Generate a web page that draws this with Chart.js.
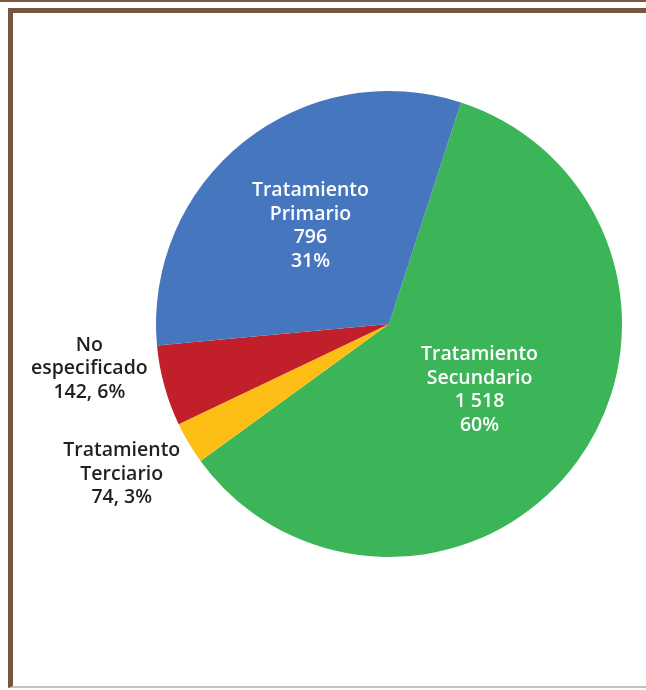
<!DOCTYPE html>
<html lang="es">
<head>
<meta charset="UTF-8">
<title>Tratamiento</title>
<script src="https://cdn.jsdelivr.net/npm/chart.js"></script>
<style>
  html, body { margin: 0; padding: 0; background: #fff; }
  body { width: 646px; height: 690px; position: relative; overflow: hidden; }
  .topline { position: absolute; left: 0; top: 0; width: 646px; height: 2px; background: #7a5a44; }
  .frame { position: absolute; left: 8px; top: 8px; width: 646px; height: 680px;
           border-top: 5px solid #775540; border-left: 5px solid #775540; border-bottom: 2px solid #c8c0ba; box-sizing: border-box; }
  canvas { position: absolute; left: 0; top: 0; }
</style>
</head>
<body>
<div class="topline"></div>
<div class="frame"></div>
<canvas id="pie" width="646" height="690"></canvas>
<script>
const categorias = ['Tratamiento Secundario', 'Tratamiento Terciario', 'No especificado', 'Tratamiento Primario'];
const valores = [1518, 74, 142, 796];
const porcentajes = ['60%', '3%', '6%', '31%'];
const etiquetas = [
  ['Tratamiento', 'Secundario', '1 518', '60%'],
  ['Tratamiento', 'Terciario', '74, 3%'],
  ['No', 'especificado', '142, 6%'],
  ['Tratamiento', 'Primario', '796', '31%']
];
const colores = ['#3bb558', '#fdbe16', '#c1202a', '#4677be'];

// where each label goes: inside (fraction of radius) or outside (offset from arc edge)
const posiciones = [
  { inside: true, r: 0.48, color: '#ffffff' },
  { inside: false, dx: -67, dy: 31, color: '#231f20' },
  { inside: false, dx: -75, dy: -17, color: '#231f20' },
  { inside: true, r: 0.54, color: '#ffffff' }
];

const etiquetasPlugin = {
  id: 'etiquetas',
  afterDatasetsDraw(chart) {
    const ctx = chart.ctx;
    const arcs = chart.getDatasetMeta(0).data;
    ctx.save();
    ctx.font = '600 19.5px "Open Sans", sans-serif';
    ctx.textAlign = 'center';
    ctx.textBaseline = 'middle';
    const lh = 23.5;
    arcs.forEach((arc, i) => {
      const p = posiciones[i];
      const mid = (arc.startAngle + arc.endAngle) / 2;
      let x, y;
      if (p.inside) {
        x = arc.x + Math.cos(mid) * arc.outerRadius * p.r;
        y = arc.y + Math.sin(mid) * arc.outerRadius * p.r;
      } else {
        x = arc.x + Math.cos(mid) * arc.outerRadius + p.dx;
        y = arc.y + Math.sin(mid) * arc.outerRadius + p.dy;
      }
      const lines = etiquetas[i];
      ctx.fillStyle = p.color;
      lines.forEach((t, k) => {
        ctx.fillText(t, x, y + (k - (lines.length - 1) / 2) * lh);
      });
    });
    ctx.restore();
  }
};

new Chart(document.getElementById('pie'), {
  type: 'pie',
  data: {
    labels: categorias,
    datasets: [{
      data: valores,
      backgroundColor: colores,
      borderWidth: 0
    }]
  },
  options: {
    responsive: false,
    animation: false,
    rotation: 18,
    layout: { padding: { left: 156, right: 24, top: 91, bottom: 133 } },
    plugins: {
      legend: { display: false },
      tooltip: { enabled: false }
    }
  },
  plugins: [etiquetasPlugin]
});
</script>
</body>
</html>
